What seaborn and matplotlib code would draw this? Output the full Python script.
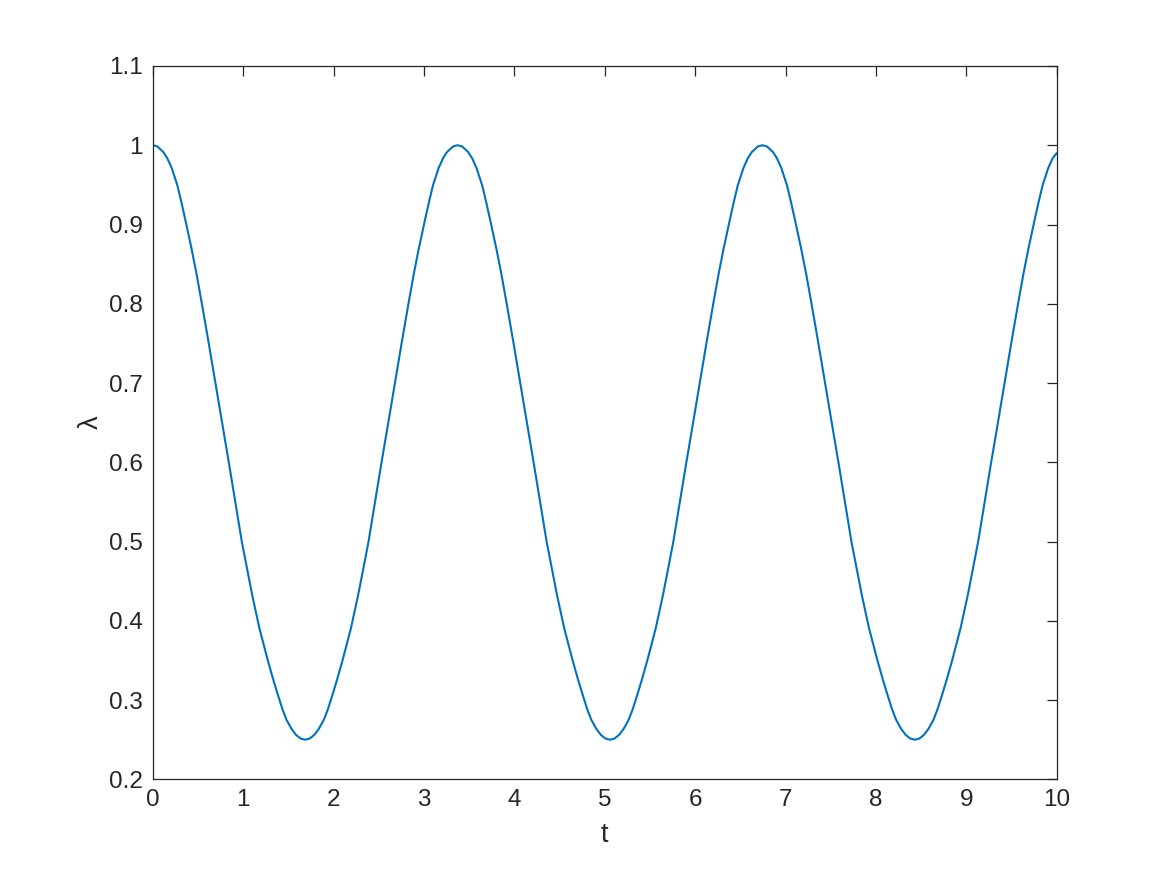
import matplotlib
matplotlib.use("Agg")
import matplotlib.pyplot as plt
import seaborn as sns
import pandas as pd
import numpy as np

# Readings taken off the reference curve (t, lambda)
t_seg1 = [0.000, 0.050, 0.117, 0.160, 0.210, 0.272, 0.313, 0.360, 0.430, 0.487, 0.542, 0.615, 0.689, 0.765,
          0.844, 0.915, 0.985, 1.050, 1.100, 1.180, 1.273, 1.335, 1.383, 1.436, 1.480, 1.536, 1.586, 1.636, 1.686]
l_seg1 = [1.0000, 0.9985, 0.9914, 0.9838, 0.9712, 0.9495, 0.9300, 0.9060, 0.8690, 0.8360, 0.8010, 0.7530, 0.7030, 0.6510,
          0.5980, 0.5490, 0.5000, 0.4615, 0.4325, 0.3905, 0.3500, 0.3250, 0.3070, 0.2880, 0.2750, 0.2635, 0.2560, 0.2515, 0.2500]

t_seg2 = [1.736, 1.786, 1.836, 1.892, 1.936, 1.989, 2.037, 2.099, 2.192, 2.272, 2.322, 2.387, 2.457, 2.528,
          2.607, 2.683, 2.757, 2.830, 2.885, 2.942, 3.012, 3.059, 3.100, 3.162, 3.212, 3.255, 3.322, 3.372]
l_seg2 = [0.2515, 0.2560, 0.2635, 0.2750, 0.2880, 0.3070, 0.3250, 0.3500, 0.3905, 0.4325, 0.4615, 0.5000, 0.5490, 0.5980,
          0.6510, 0.7030, 0.7530, 0.8010, 0.8360, 0.8690, 0.9060, 0.9300, 0.9495, 0.9712, 0.9838, 0.9914, 0.9985, 1.0000]

t_seg3 = [3.422, 3.489, 3.532, 3.582, 3.644, 3.685, 3.732, 3.802, 3.859, 3.914, 3.987, 4.061, 4.137, 4.216,
          4.287, 4.357, 4.422, 4.472, 4.552, 4.645, 4.707, 4.755, 4.808, 4.852, 4.908, 4.958, 5.008, 5.058]
l_seg3 = [0.9985, 0.9914, 0.9838, 0.9712, 0.9495, 0.9300, 0.9060, 0.8690, 0.8360, 0.8010, 0.7530, 0.7030, 0.6510, 0.5980,
          0.5490, 0.5000, 0.4615, 0.4325, 0.3905, 0.3500, 0.3250, 0.3070, 0.2880, 0.2750, 0.2635, 0.2560, 0.2515, 0.2500]

t_seg4 = [5.108, 5.158, 5.208, 5.264, 5.308, 5.361, 5.409, 5.471, 5.564, 5.644, 5.694, 5.759, 5.829, 5.900,
          5.979, 6.055, 6.129, 6.202, 6.257, 6.314, 6.384, 6.431, 6.472, 6.534, 6.584, 6.627, 6.694, 6.744]
l_seg4 = [0.2515, 0.2560, 0.2635, 0.2750, 0.2880, 0.3070, 0.3250, 0.3500, 0.3905, 0.4325, 0.4615, 0.5000, 0.5490, 0.5980,
          0.6510, 0.7030, 0.7530, 0.8010, 0.8360, 0.8690, 0.9060, 0.9300, 0.9495, 0.9712, 0.9838, 0.9914, 0.9985, 1.0000]

t_seg5 = [6.794, 6.861, 6.904, 6.954, 7.016, 7.057, 7.104, 7.174, 7.231, 7.286, 7.359, 7.433, 7.509, 7.588,
          7.659, 7.729, 7.794, 7.844, 7.924, 8.017, 8.079, 8.127, 8.180, 8.224, 8.280, 8.330, 8.380, 8.430]
l_seg5 = [0.9985, 0.9914, 0.9838, 0.9712, 0.9495, 0.9300, 0.9060, 0.8690, 0.8360, 0.8010, 0.7530, 0.7030, 0.6510, 0.5980,
          0.5490, 0.5000, 0.4615, 0.4325, 0.3905, 0.3500, 0.3250, 0.3070, 0.2880, 0.2750, 0.2635, 0.2560, 0.2515, 0.2500]

t_seg6 = [8.480, 8.530, 8.580, 8.636, 8.680, 8.733, 8.781, 8.843, 8.936, 9.016, 9.066, 9.131, 9.201, 9.272,
          9.351, 9.427, 9.501, 9.574, 9.629, 9.686, 9.756, 9.803, 9.844, 9.906, 9.956, 10.000]
l_seg6 = [0.2515, 0.2560, 0.2635, 0.2750, 0.2880, 0.3070, 0.3250, 0.3500, 0.3905, 0.4325, 0.4615, 0.5000, 0.5490, 0.5980,
          0.6510, 0.7030, 0.7530, 0.8010, 0.8360, 0.8690, 0.9060, 0.9300, 0.9495, 0.9712, 0.9838, 0.9900]

x_ticks = [0, 1, 2, 3, 4, 5, 6, 7, 8, 9, 10]
y_ticks = [0.2, 0.3, 0.4, 0.5, 0.6, 0.7, 0.8, 0.9, 1.0, 1.1]
y_tick_labels = ["0.2", "0.3", "0.4", "0.5", "0.6", "0.7", "0.8", "0.9", "1", "1.1"]
x_label = "t"
y_label = "λ"

t_all = t_seg1 + t_seg2 + t_seg3 + t_seg4 + t_seg5 + t_seg6
l_all = l_seg1 + l_seg2 + l_seg3 + l_seg4 + l_seg5 + l_seg6
df = pd.DataFrame({"t": t_all, "lam": l_all})

sns.set_theme(style="white")
plt.rcParams['font.family'] = ['Liberation Sans', 'DejaVu Sans']

ink = "#262626"
fig = plt.figure(figsize=(11.67, 8.75), dpi=100)
ax = fig.add_axes([0.1309, 0.1093, 0.7746, 0.8153])

sns.lineplot(data=df, x="t", y="lam", ax=ax, color="#0072BD", linewidth=1.5,
             estimator=None, sort=False)

ax.set_xlim(0, 10)
ax.set_ylim(0.2, 1.1)
ax.set_xticks(x_ticks)
ax.set_xticklabels([str(v) for v in x_ticks])
ax.set_yticks(y_ticks)
ax.set_yticklabels(y_tick_labels)

ax.tick_params(axis="both", which="major", direction="in", length=7, width=0.9,
               colors=ink, labelsize=17.5, top=True, right=True, pad=7)
for sp in ax.spines.values():
    sp.set_visible(True)
    sp.set_color(ink)
    sp.set_linewidth(0.9)

ax.set_xlabel(x_label, fontsize=19.5, color=ink, labelpad=8)
ax.set_ylabel(y_label, fontsize=19.5, color=ink, labelpad=4)
ax.grid(False)

fig.savefig("out.png", dpi=100, facecolor="white")
